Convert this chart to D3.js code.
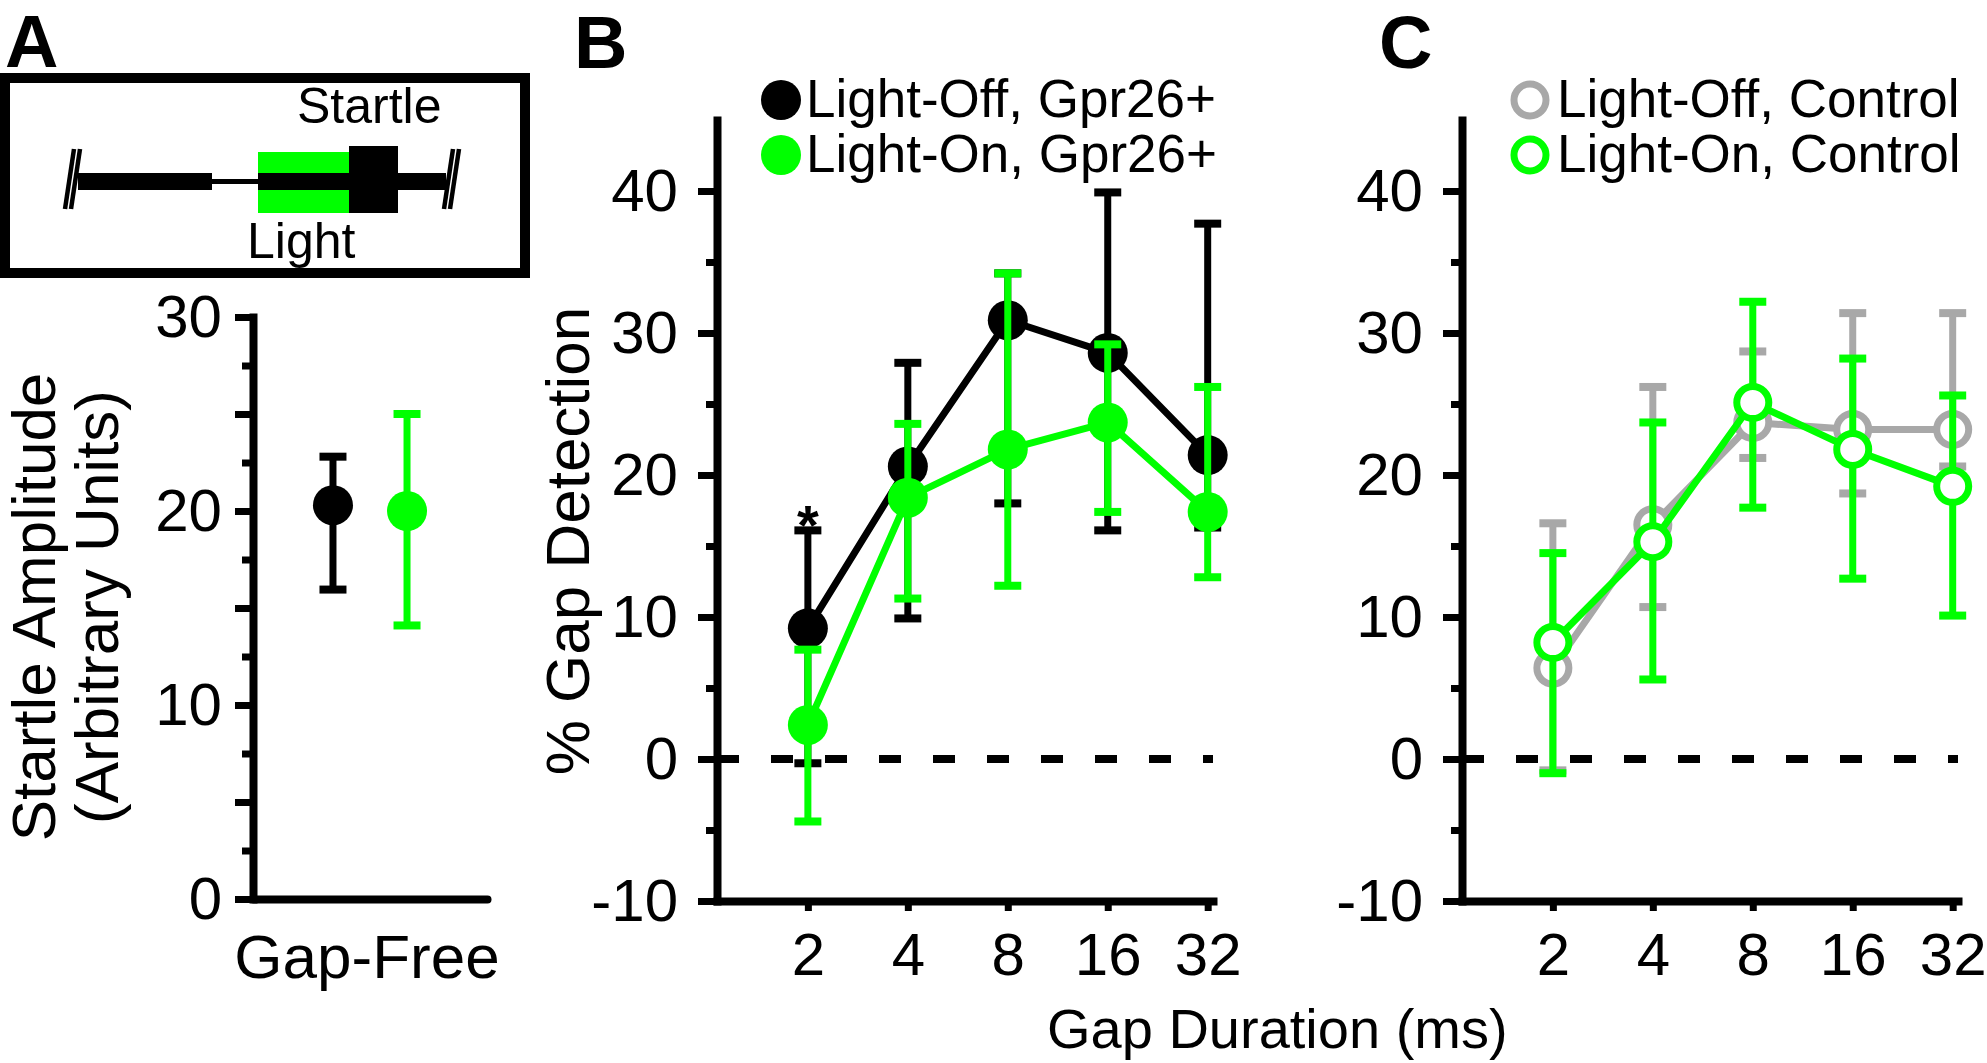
<!DOCTYPE html>
<html>
<head>
<meta charset="utf-8">
<script src="https://cdn.jsdelivr.net/npm/d3@7"></script>
<style>
body { margin: 0; background: #fff; }
text { font-family: "Liberation Sans", Arial, Helvetica, sans-serif; }
</style>
</head>
<body>
<div id="chart"></div>
<script>
const WIDTH = 1987
const HEIGHT = 1063
const GREEN = '#00ff00'
const GREY = '#a8a8a8'
const FONT = '"Liberation Sans", Arial, Helvetica, sans-serif'

// panel A: startle amplitude, gap-free trials
const startleConds = ['Light-Off', 'Light-On']
const startleMean = [20.3, 20.0]
const startleHi = [22.8, 25.0]
const startleLo = [15.95, 14.1]
const startleTicks = [0, 10, 20, 30]
const startleMid = [5, 15, 25]
const startleMinor = [2.5, 7.5, 12.5, 17.5, 22.5, 27.5]

// panels B and C: gap detection vs gap duration
const gaps = [2, 4, 8, 16, 32]
const gapTicks = [-10, 0, 10, 20, 30, 40]
const gapMinor = [-5, 5, 15, 25, 35]

const offGpr = [9.2, 20.6, 30.9, 28.6, 21.4]
const offGprHi = [16.1, 27.9, 34.2, 39.9, 37.7]
const offGprLo = [-0.3, 9.9, 18.0, 16.1, 16.3]
const onGpr = [2.4, 18.4, 21.8, 23.7, 17.4]
const onGprHi = [7.7, 23.6, 34.2, 29.2, 26.2]
const onGprLo = [-4.4, 11.3, 12.2, 17.4, 12.8]

const offCtl = [6.4, 16.5, 23.7, 23.2, 23.2]
const offCtlHi = [16.6, 26.2, 28.7, 31.4, 31.4]
const offCtlLo = [-0.8, 10.7, 21.2, 18.7, 20.6]
const onCtl = [8.2, 15.3, 25.1, 21.8, 19.2]
const onCtlHi = [14.5, 23.7, 32.2, 28.2, 25.6]
const onCtlLo = [-1.0, 5.6, 17.7, 12.7, 10.1]

// schematic timeline (arbitrary units)
const noiseA = [0, 134]
const gapSeg = [134, 180]
const lightSeg = [180, 271]
const startleSeg = [271, 320]
const noiseB = [320, 368]

const svg = d3.select('#chart')
    .append('svg')
    .attr('width', WIDTH)
    .attr('height', HEIGHT)
    .style('display', 'block')

const styleAxis = (g, size) => {
    g.attr('font-family', FONT).attr('font-size', size)
    g.selectAll('.tick line').attr('stroke', '#000').attr('stroke-width', 7)
    g.selectAll('.tick text').attr('fill', '#000')
    g.select('.domain').attr('stroke', '#000').attr('stroke-width', 8).attr('stroke-linecap', 'square')
}

const label = (x, y, str, size, opts = {}) => svg.append('text')
    .attr('x', x).attr('y', y)
    .attr('font-size', size)
    .attr('font-weight', opts.bold ? 'bold' : 'normal')
    .attr('text-anchor', opts.anchor || 'start')
    .attr('transform', opts.rotate ? `rotate(-90, ${x}, ${y})` : null)
    .attr('fill', '#000')
    .text(str)

// ---------- panel letters
label(5, 67, 'A', 74, { bold: true })
label(574, 68, 'B', 74, { bold: true })
label(1379, 68, 'C', 74, { bold: true })

// ---------- schematic
svg.append('rect')
    .attr('x', 5).attr('y', 78).attr('width', 520).attr('height', 195)
    .attr('fill', 'none').attr('stroke', '#000').attr('stroke-width', 10)

const sx = d3.scaleLinear().domain([0, 368]).range([78, 446])
const sch = svg.append('g')
sch.append('rect').attr('x', sx(lightSeg[0])).attr('width', sx(lightSeg[1]) - sx(lightSeg[0]))
    .attr('y', 152).attr('height', 61).attr('fill', GREEN)
;[noiseA, lightSeg, noiseB].forEach(s => sch.append('rect')
    .attr('x', sx(s[0])).attr('width', sx(s[1]) - sx(s[0]))
    .attr('y', 173).attr('height', 17).attr('fill', '#000'))
sch.append('rect').attr('x', sx(gapSeg[0])).attr('width', sx(gapSeg[1]) - sx(gapSeg[0]))
    .attr('y', 179).attr('height', 5).attr('fill', '#000')
sch.append('rect').attr('x', sx(startleSeg[0])).attr('width', sx(startleSeg[1]) - sx(startleSeg[0]))
    .attr('y', 146).attr('height', 67).attr('fill', '#000')
const slash = x0 => {
    ;[0, 6].forEach(o => sch.append('line')
        .attr('x1', x0 + o).attr('y1', 209).attr('x2', x0 + o + 9).attr('y2', 149)
        .attr('stroke', '#000').attr('stroke-width', 4.5))
}
slash(sx(noiseA[0]) - 13)
slash(sx(noiseB[1]) - 2)
label(297, 123, 'Startle', 50)
label(247, 258, 'Light', 50)

// ---------- panel A
const yStartle = d3.scaleLinear().domain([0, 30]).range([899, 317])
const xStartle = d3.scalePoint().domain(startleConds).range([253, 487]).padding(1.08)

svg.append('g').attr('transform', 'translate(253,0)')
    .call(d3.axisLeft(yStartle).tickValues(startleMinor).tickSize(11).tickFormat(''))
    .call(g => { styleAxis(g, 60); g.select('.domain').remove() })
svg.append('g').attr('transform', 'translate(253,0)')
    .call(d3.axisLeft(yStartle).tickValues(startleMid).tickSize(18).tickFormat(''))
    .call(g => { styleAxis(g, 60); g.select('.domain').remove() })
svg.append('g').attr('transform', 'translate(253,0)')
    .call(d3.axisLeft(yStartle).tickValues(startleTicks).tickFormat(d => String(d))
        .tickSize(18).tickSizeOuter(0).tickPadding(13))
    .call(g => styleAxis(g, 60))
svg.append('g').attr('transform', `translate(0,${yStartle(0)})`)
    .call(d3.axisBottom(xStartle).tickValues([]).tickSizeOuter(0))
    .call(g => { styleAxis(g, 60); g.select('.domain').attr('stroke-linecap', 'round') })

const startleColors = ['#000', GREEN]
const gA = svg.append('g')
startleConds.forEach((c, i) => {
    const x = xStartle(c)
    gA.append('line').attr('x1', x).attr('x2', x)
        .attr('y1', yStartle(startleLo[i])).attr('y2', yStartle(startleHi[i]))
        .attr('stroke', startleColors[i]).attr('stroke-width', 7)
    ;[startleLo[i], startleHi[i]].forEach(v => gA.append('line')
        .attr('x1', x - 13.5).attr('x2', x + 13.5)
        .attr('y1', yStartle(v)).attr('y2', yStartle(v))
        .attr('stroke', startleColors[i]).attr('stroke-width', 8))
    gA.append('circle').attr('cx', x).attr('cy', yStartle(startleMean[i]))
        .attr('r', 20).attr('fill', startleColors[i])
})

label(55, 607, 'Startle Amplitude', 62, { anchor: 'middle', rotate: true })
label(118, 607, '(Arbitrary Units)', 62, { anchor: 'middle', rotate: true })
label(367, 978, 'Gap-Free', 62, { anchor: 'middle' })

// ---------- panels B and C
const yGap = d3.scaleLinear().domain([-10, 45]).range([901, 120])
const xGapB = d3.scaleLog().base(2).domain([1.065, 33.2]).range([717, 1213])
const xGapC = xGapB.copy().range([1462, 1958])

const gapPanel = (xs, series, legend) => {
    const x0 = xs.range()[0]
    svg.append('g').attr('transform', `translate(${x0},0)`)
        .call(d3.axisLeft(yGap).tickValues(gapMinor).tickSize(11).tickFormat(''))
        .call(g => { styleAxis(g, 60); g.select('.domain').remove() })
    svg.append('g').attr('transform', `translate(${x0},0)`)
        .call(d3.axisLeft(yGap).tickValues(gapTicks).tickFormat(d => String(d))
            .tickSize(19).tickSizeOuter(0).tickPadding(20))
        .call(g => styleAxis(g, 60))
    svg.append('g').attr('transform', `translate(0,${yGap(-10)})`)
        .call(d3.axisBottom(xs).tickValues(gaps).tickFormat(d => String(d))
            .tickSize(10).tickSizeOuter(0).tickPadding(21))
        .call(g => styleAxis(g, 60))

    svg.append('line')
        .attr('x1', x0).attr('x2', xs.range()[1])
        .attr('y1', yGap(0)).attr('y2', yGap(0))
        .attr('stroke', '#000').attr('stroke-width', 8)
        .attr('stroke-dasharray', '22,32')

    const line = d3.line().x((d, i) => xs(gaps[i])).y(d => yGap(d))

    series.forEach(s => {
        const g = svg.append('g')
        g.append('path').datum(s.mean).attr('d', line)
            .attr('fill', 'none').attr('stroke', s.color).attr('stroke-width', 7)
            .attr('stroke-linejoin', 'round')
        gaps.forEach((d, i) => {
            const x = xs(d)
            g.append('line').attr('x1', x).attr('x2', x)
                .attr('y1', yGap(s.lo[i])).attr('y2', yGap(s.hi[i]))
                .attr('stroke', s.color).attr('stroke-width', 7)
            ;[s.lo[i], s.hi[i]].forEach(v => g.append('line')
                .attr('x1', x - 13.5).attr('x2', x + 13.5)
                .attr('y1', yGap(v)).attr('y2', yGap(v))
                .attr('stroke', s.color).attr('stroke-width', 8))
        })
        g.selectAll('circle').data(s.mean).enter().append('circle')
            .attr('cx', (d, i) => xs(gaps[i])).attr('cy', d => yGap(d))
            .attr('r', s.hollow ? 16 : 20)
            .attr('fill', s.hollow ? '#fff' : s.color)
            .attr('stroke', s.hollow ? s.color : 'none')
            .attr('stroke-width', 7)
    })

    series.forEach((s, i) => {
        const cy = 100 + i * 55
        svg.append('circle').attr('cx', legend.cx).attr('cy', cy)
            .attr('r', s.hollow ? 16 : 20)
            .attr('fill', s.hollow ? '#fff' : s.color)
            .attr('stroke', s.hollow ? s.color : 'none')
            .attr('stroke-width', 7)
        label(legend.tx, cy + 17, s.name, 53)
    })
}

gapPanel(xGapB, [
    { name: 'Light-Off, Gpr26+', mean: offGpr, hi: offGprHi, lo: offGprLo, color: '#000', hollow: false },
    { name: 'Light-On, Gpr26+', mean: onGpr, hi: onGprHi, lo: onGprLo, color: GREEN, hollow: false }
], { cx: 781, tx: 806 })

gapPanel(xGapC, [
    { name: 'Light-Off, Control', mean: offCtl, hi: offCtlHi, lo: offCtlLo, color: GREY, hollow: true },
    { name: 'Light-On, Control', mean: onCtl, hi: onCtlHi, lo: onCtlLo, color: GREEN, hollow: true }
], { cx: 1530, tx: 1557 })

// significance marker above the 2 ms Gpr26+ light-off bar
label(xGapB(gaps[0]), yGap(offGprHi[0]) + 14, '*', 56, { anchor: 'middle', bold: true })

label(589, 541, '% Gap Detection', 62, { anchor: 'middle', rotate: true })
label(1047, 1048, 'Gap Duration (ms)', 56)
</script>
</body>
</html>
